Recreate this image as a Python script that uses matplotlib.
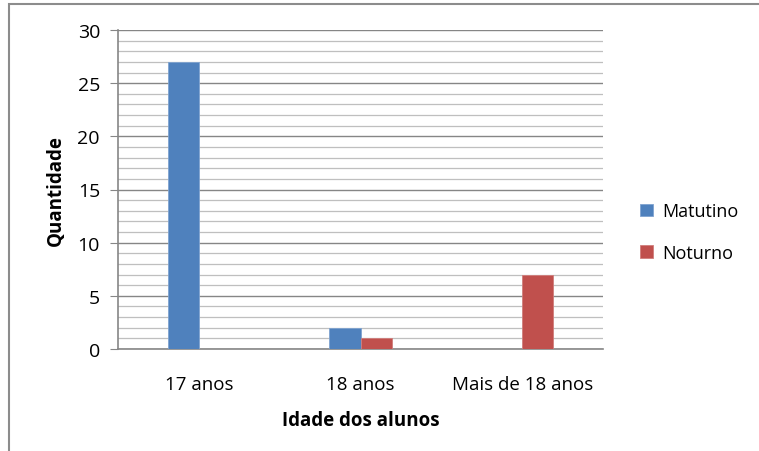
import numpy as np
import matplotlib.pyplot as plt
from matplotlib.patches import Rectangle

plt.rcParams['font.family'] = ['Open Sans', 'DejaVu Sans']

categorias = ['17 anos', '18 anos', 'Mais de 18 anos']
matutino = [27, 2, 0]
noturno = [0, 1, 7]

W, H = 759, 452
fig = plt.figure(figsize=(W / 100, H / 100), dpi=100)
ax = fig.add_axes([118 / W, 1 - 350 / H, (603 - 118) / W, (350 - 31) / H])

x = np.arange(len(categorias))
bw = 0.192
ax.bar(x - bw / 2, matutino, bw, color='#4F81BD', edgecolor='#7FA3D0', linewidth=0.6,
       label='Matutino', zorder=3)
ax.bar(x + bw / 2, noturno, bw, color='#C0504D', edgecolor='#D07E7C', linewidth=0.6,
       label='Noturno', zorder=3)

ax.set_xlim(-0.5, 2.5)
ax.set_ylim(0, 30)
ax.set_yticks(range(0, 31, 5))
ax.set_yticks(range(0, 31, 1), minor=True)
ax.yaxis.grid(True, which='major', color='#868686', linewidth=1.0, zorder=0)
ax.yaxis.grid(True, which='minor', color='#BFBFBF', linewidth=0.9, zorder=0)
ax.tick_params(axis='y', which='major', length=6, color='#868686', labelsize=14,
               pad=7)
ax.tick_params(axis='y', which='minor', length=0)
ax.set_xticks(x)
ax.set_xticklabels(categorias)
ax.tick_params(axis='x', length=0, labelsize=13.5, pad=19)

for s in ['top', 'right']:
    ax.spines[s].set_visible(False)
for s in ['left', 'bottom']:
    ax.spines[s].set_color('#868686')
    ax.spines[s].set_linewidth(1.2)

ax.set_ylabel('Quantidade', fontsize=13.5, fontweight='bold', labelpad=8)
ax.set_xlabel('Idade dos alunos', fontsize=13.5, fontweight='bold', labelpad=12)

fig.legend(loc='center left', bbox_to_anchor=(624 / W, 1 - 233 / H), frameon=False,
           fontsize=13, handlelength=0.7, handleheight=0.7, labelspacing=1.3,
           handletextpad=0.5)

# moldura do gráfico (só topo e esquerda visíveis)
fig.patches.append(Rectangle((9 / W, -0.1), 1.2, 1 - 5 / H + 0.1, transform=fig.transFigure,
                             fill=False, edgecolor='#8C8C8C', linewidth=1.5))

fig.savefig('out.png', dpi=100)
